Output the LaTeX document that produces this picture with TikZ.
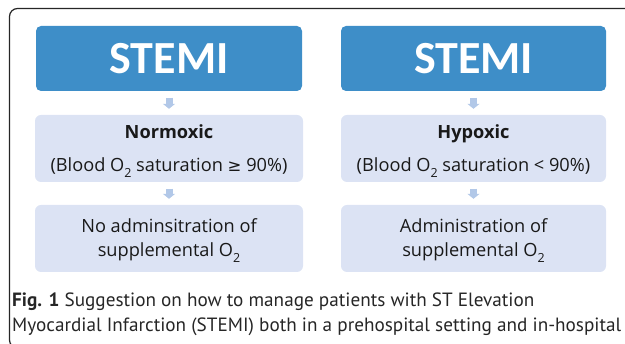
\documentclass[tikz,border=0pt]{standalone}
\usepackage{fontspec}
\setmainfont{Open Sans}
\newfontfamily\stemifont{Carlito}
\newfontfamily\capfont{PT Sans}
\newfontfamily\symfont{DejaVu Sans}
\usetikzlibrary{arrows.meta}
\definecolor{stemiblue}{RGB}{62,142,200}
\definecolor{lightbox}{RGB}{220,227,244}
\definecolor{arrowblue}{RGB}{178,200,232}
\newcommand{\oxsub}[1]{\raisebox{-0.28em}{\fontsize{12.5}{12.5}\selectfont #1}}
\begin{document}
\begin{tikzpicture}[x=1pt,y=-1pt,
  topbox/.style={fill=stemiblue, rounded corners=5pt, minimum height=65pt, inner sep=0pt,
    text=white, font=\stemifont\bfseries\fontsize{46}{50}\selectfont},
  subbox/.style={fill=lightbox, rounded corners=6pt, minimum height=67pt, inner sep=0pt},
  boxtext/.style={anchor=base, font=\fontsize{18.2}{20}\selectfont, inner sep=0pt, text=black!90},
  flowarrow/.style={draw=arrowblue, line width=7pt, shorten <=6.5pt, shorten >=6pt,
    -{Triangle[length=5pt,width=12pt]}},
  captext/.style={anchor=base west, inner sep=0pt, text=black!85, font=\capfont\fontsize{19.2}{22}\selectfont},
  frameline/.style={draw=black!85, line width=1.2pt, rounded corners=8pt}]
\useasboundingbox (0,0) rectangle (625,344);
\begin{scope}
\clip (0,0) rectangle (625,344);
\draw[frameline] (630,8.5) -- (9.5,8.5) -- (9.5,348) -- (630,348);
\end{scope}
% left column
\node[topbox, minimum width=266pt] (s1) at (169,58.5) {STEMI};
\node[subbox, minimum width=268pt] (b1) at (169,148.5) {};
\node[subbox, minimum width=268pt] (c1) at (169,238.5) {};
\node[boxtext] (t1a) at (169,139) {\bfseries Normoxic};
\node[boxtext] (t1b) at (169,172) {(Blood O\oxsub{2} saturation {\symfont\fontsize{16.5}{18}\selectfont ≥} 90\%)};
\node[boxtext] (t1c) at (169,233) {No adminsitration of};
\node[boxtext] (t1d) at (169,257) {supplemental O\oxsub{2}};
% right column
\node[topbox, minimum width=265pt] (s2) at (473.5,58.5) {STEMI};
\node[subbox, minimum width=265pt] (b2) at (473.5,148.5) {};
\node[subbox, minimum width=265pt] (c2) at (473.5,238.5) {};
\node[boxtext] (t2a) at (473.5,139) {\bfseries Hypoxic};
\node[boxtext] (t2b) at (473.5,172) {(Blood O\oxsub{2} saturation < 90\%)};
\node[boxtext] (t2c) at (473.5,233) {Administration of};
\node[boxtext] (t2d) at (473.5,257) {supplemental O\oxsub{2}};
% arrows
\draw[flowarrow] (s1.south) -- (b1.north);
\draw[flowarrow] (b1.south) -- (c1.north);
\draw[flowarrow] (s2.south) -- (b2.north);
\draw[flowarrow] (b2.south) -- (c2.north);
% caption
\node[captext] (cap1) at (12,307) {\bfseries Fig. 1\mdseries\ Suggestion on how to manage patients with ST Elevation};
\node[captext] (cap2) at (12,332) {Myocardial Infarction (STEMI) both in a prehospital setting and in-hospital};
\end{tikzpicture}
\end{document}
